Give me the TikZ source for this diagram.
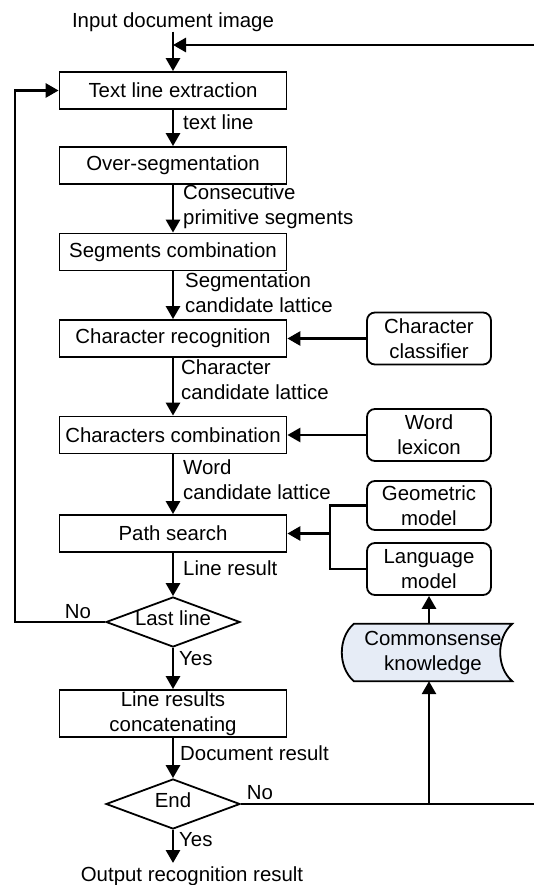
\documentclass[tikz,border=0pt]{standalone}
\usepackage{fontspec}
\setmainfont{Liberation Sans}
\usetikzlibrary{arrows.meta,shapes.geometric,backgrounds}
\definecolor{ckfill}{HTML}{E6ECF6}
\begin{document}
\begin{tikzpicture}[x=1pt,y=-1pt,
  font=\fontsize{20.4}{25}\selectfont,
  box/.style={draw, line width=1.8pt, minimum width=227pt, minimum height=37pt, inner sep=0pt, align=center},
  rbox/.style={draw, line width=1.8pt, rounded corners=8pt, minimum width=124pt, inner sep=0pt, align=center},
  dec/.style={draw, diamond, line width=1.8pt, aspect=2.7, minimum width=134pt, minimum height=50pt, inner sep=0pt, text height=0.72em, text depth=0pt},
  lbl/.style={anchor=west, inner sep=0pt, align=left},
  plain/.style={inner sep=0pt},
  conn/.style={line width=2.8pt},
  arr/.style={conn, -{Triangle[length=13pt,width=14pt]}}
]
\useasboundingbox (0,0) rectangle (533,885);

% main column
\node[plain] (inp) at (173,22) {Input document image};
\node[box] (tle) at (173,90.5) {Text line extraction};
\node[box] (ovs) at (173,165.5) {Over-segmentation};
\node[box] (sgc) at (173,252) {Segments combination};
\node[box] (chr) at (173,338.5) {Character recognition};
\node[box] (chc) at (173,435) {Characters combination};
\node[box] (ps) at (173,533.5) {Path search};
\node[dec] (ll) at (173,622) {\makebox[0pt]{Last line}};
\node[box, minimum height=47pt] (lrc) at (173,713.5) {Line results\\concatenating};
\node[dec] (end) at (173,804) {\makebox[0pt]{End}};
\node[plain] (out) at (192,876) {Output recognition result};

% right column
\node[rbox, minimum height=52pt] (cc) at (429,338.5) {Character\\classifier};
\node[rbox, minimum height=52pt] (wl) at (429,435) {Word\\lexicon};
\node[rbox, minimum height=49pt] (gm) at (429,505.5) {Geometric\\model};
\node[rbox, minimum height=52pt] (lm) at (429,569) {Language\\model};
\node[plain, minimum width=158pt, minimum height=57pt, align=center] (ck) at (433,652.5) {Commonsense\\knowledge};
\begin{scope}[on background layer]
\draw[line width=1.8pt, fill=ckfill] (ck.north west) -- (ck.north east)
  .. controls ([xshift=-16pt,yshift=-14pt]ck.north east) and ([xshift=-16pt,yshift=14pt]ck.south east) .. (ck.south east)
  -- (ck.south west)
  .. controls ([xshift=-16pt,yshift=14pt]ck.south west) and ([xshift=-16pt,yshift=-14pt]ck.north west) .. (ck.north west) -- cycle;
\end{scope}

% labels
\node[lbl] (l1) at (183,122) {text line};
\node[lbl] (l2) at (183,206.5) {Consecutive\\primitive segments};
\node[lbl] (l3) at (185,292.5) {Segmentation\\candidate lattice};
\node[lbl] (l4) at (181,380) {Character\\candidate lattice};
\node[lbl] (l5) at (183,480) {Word\\candidate lattice};
\node[lbl] (l6) at (183,568) {Line result};
\node[lbl] (l7) at (179,659) {Yes};
\node[lbl] (l8) at (180,753) {Document result};
\node[lbl] (l9) at (179,840) {Yes};
\node[plain] (no1) at (78,612) {No};
\node[plain] (no2) at (260,793) {No};

% main connectors
\draw[arr] (inp.south) -- (tle.north);
\draw[arr] (tle.south) -- (ovs.north);
\draw[arr] (ovs.south) -- (sgc.north);
\draw[arr] (sgc.south) -- (chr.north);
\draw[arr] (chr.south) -- (chc.north);
\draw[arr] (chc.south) -- (ps.north);
\draw[arr] (ps.south) -- (ll.north);
\draw[arr] (ll.south) -- (lrc.north);
\draw[arr] (lrc.south) -- (end.north);
\coordinate (oe) at (173,863);
\draw[arr] (end.south) -- (oe);

% loops
\coordinate (L) at (15,622);
\draw[arr] (ll.west) -- (L) |- (tle.west);
\coordinate (R) at (545,804);
\coordinate (T) at (173,45);
\draw[arr] (end.east) -- (R) |- (T);

% right side connectors
\draw[arr] (cc.west) -- (cc.west -| chr.east);
\draw[arr] (wl.west) -- (wl.west -| chc.east);
\coordinate (B) at (330,533.5);
\draw[conn] (gm.west) -| (B) |- (lm.west);
\draw[arr] (B) -- (ps.east);
\coordinate (J) at (lm.south |- end.east);
\draw[arr] (J) -- (J |- ck.south);
\draw[arr] (ck.north -| lm.south) -- (lm.south);
\end{tikzpicture}
\end{document}
